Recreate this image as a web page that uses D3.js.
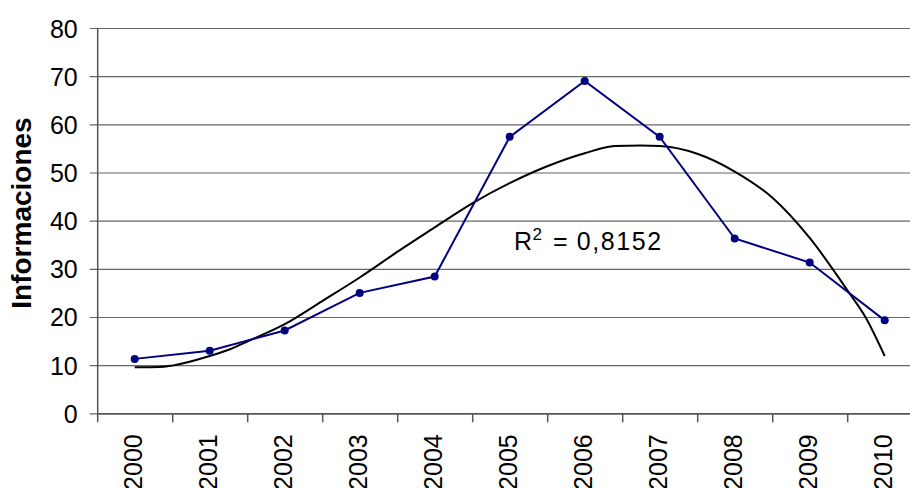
<!DOCTYPE html>
<html>
<head>
<meta charset="utf-8">
<script src="https://cdn.jsdelivr.net/npm/d3@7"></script>
<style>
  html, body { margin: 0; padding: 0; background: #fff; }
  svg { display: block; font-family: "Liberation Sans", Arial, sans-serif; }
</style>
</head>
<body>
<svg id="chart" width="910" height="488"></svg>
<script>
// ---- data ----
const years = ["2000","2001","2002","2003","2004","2005","2006","2007","2008","2009","2010"];
const informaciones = [11.3, 13.0, 17.2, 25.0, 28.4, 57.4, 69.0, 57.4, 36.3, 31.3, 19.3];
// polynomial trend line (fractional year offset from 2000)
const trendX = [0, 0.33, 0.5, 1.0, 1.27, 1.5, 2.0, 2.5, 3.0, 3.5, 4.0, 4.5, 5.0, 5.5, 6.0, 6.4, 6.75, 7.0, 7.5, 8.0, 8.5, 9.0, 9.5, 9.75, 10.0];
const trendY = [9.55, 9.6, 9.9, 11.9, 13.3, 14.9, 18.5, 23.3, 28.2, 33.5, 38.6, 43.6, 47.8, 51.3, 54.0, 55.5, 55.6, 55.5, 53.9, 50.2, 44.8, 36.4, 25.6, 19.8, 11.9];
const yTicks = [0, 10, 20, 30, 40, 50, 60, 70, 80];
const r2Label = "0,8152";
const yTitle = "Informaciones";

// ---- layout ----
const svg = d3.select("#chart");
const mLeft = 97.7, mTop = 28, mBottom = 413.3;
const band = 75;
const mRight = mLeft + band * years.length;
const FS = 25;

const x = d3.scaleBand().domain(years).range([mLeft, mRight]).paddingInner(0).paddingOuter(0);
const xi = d3.scaleLinear().domain([0, years.length - 1])
  .range([x(years[0]) + x.bandwidth() / 2 - 0.5, x(years[years.length - 1]) + x.bandwidth() / 2 - 0.5]);
const y = d3.scaleLinear().domain([0, 80]).range([mBottom, mTop]);

// gridlines + y ticks
const yAxis = d3.axisLeft(y).tickValues(yTicks).tickSize(-(mRight - mLeft)).tickSizeOuter(0).tickPadding(13);
const gy = svg.append("g").attr("transform", `translate(${mLeft},0)`).call(yAxis);
gy.select(".domain").remove();
gy.selectAll(".tick line").attr("stroke", "#666").attr("stroke-width", 1.2).attr("x1", -8);
gy.selectAll(".tick text").attr("font-size", FS).attr("fill", "#000").attr("font-family", "Liberation Sans, Arial, sans-serif").attr("x", -20).attr("dy", "0.36em");

// y axis line
svg.append("line").attr("x1", mLeft).attr("x2", mLeft).attr("y1", mTop).attr("y2", mBottom + 9)
  .attr("stroke", "#555").attr("stroke-width", 1.5);

// x axis
const xBounds = years.map(d => x(d)).concat([mRight]);
const xAxis = d3.axisBottom(x).tickSize(0).tickPadding(0);
const gx = svg.append("g").attr("transform", `translate(0,${mBottom})`).call(xAxis);
gx.select(".domain").attr("stroke", "#555").attr("stroke-width", 1.5);
gx.selectAll(".tick text")
  .attr("font-size", FS).attr("fill", "#000").attr("font-family", "Liberation Sans, Arial, sans-serif")
  .attr("text-anchor", "end")
  .attr("transform", "rotate(-90)")
  .attr("x", -21).attr("y", -1.5).attr("dy", "0.35em");
svg.append("g").selectAll("line").data(xBounds.slice(1)).join("line")
  .attr("x1", d => d).attr("x2", d => d).attr("y1", mBottom).attr("y2", mBottom + 9)
  .attr("stroke", "#555").attr("stroke-width", 1.5);

// trend line
const trendPts = trendX.map((t, i) => [xi(t), y(trendY[i])]);
svg.append("path").datum(trendPts)
  .attr("d", d3.line().curve(d3.curveMonotoneX))
  .attr("fill", "none").attr("stroke", "#000").attr("stroke-width", 2);

// data series
const pts = years.map((yr, i) => [x(yr) + x.bandwidth() / 2 - 0.5, y(informaciones[i])]);
svg.append("path").datum(pts)
  .attr("d", d3.line())
  .attr("fill", "none").attr("stroke", "#000080").attr("stroke-width", 2);
svg.append("g").selectAll("circle").data(pts).join("circle")
  .attr("cx", d => d[0]).attr("cy", d => d[1]).attr("r", 4).attr("fill", "#000080");

// R² label
const lab = svg.append("text").attr("x", 514).attr("y", 250).attr("font-size", FS).attr("fill", "#000");
lab.append("tspan").text("R");
lab.append("tspan").attr("font-size", 17).attr("dy", -10).attr("dx", 0.5).text("2");
lab.append("tspan").attr("dy", 10).attr("dx", 11).text("=");
lab.append("tspan").attr("dx", 9).attr("letter-spacing", 1.6).text(r2Label);

// y title
svg.append("text")
  .attr("transform", `translate(31,${213}) rotate(-90)`)
  .attr("text-anchor", "middle")
  .attr("font-size", 28).attr("font-weight", "bold").attr("fill", "#000")
  .text(yTitle);
</script>
</body>
</html>
